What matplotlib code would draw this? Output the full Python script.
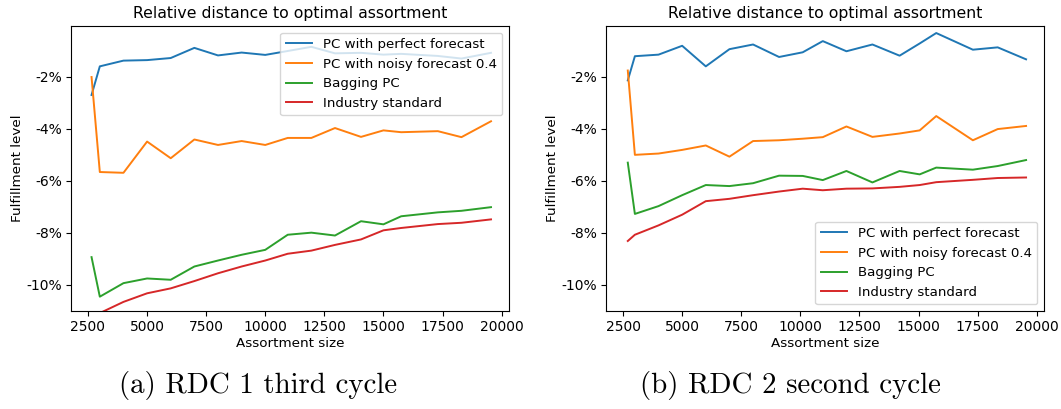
import numpy as np
import matplotlib
matplotlib.use("Agg")
import matplotlib.pyplot as plt
from matplotlib.ticker import FuncFormatter

# datos (en %)
x_a = [2650, 3000, 4000, 5000, 6000, 7000, 8000, 9000, 10000, 10950, 11950,
       12950, 14050, 15000, 15750, 17300, 18300, 19550]
perfect_a = [-2.70, -1.60, -1.38, -1.36, -1.28, -0.89, -1.18, -1.07, -1.16, -1.01, -0.85,
             -1.10, -1.08, -1.15, -1.12, -1.20, -1.30, -1.08]
noisy_a = [-2.01, -5.66, -5.69, -4.49, -5.13, -4.41, -4.62, -4.47, -4.62, -4.35, -4.35,
           -3.97, -4.31, -4.06, -4.13, -4.09, -4.32, -3.71]
bagging_a = [-8.93, -10.45, -9.93, -9.75, -9.80, -9.29, -9.06, -8.84, -8.65, -8.07, -7.99,
             -8.10, -7.55, -7.67, -7.36, -7.21, -7.15, -7.01]
industry_a = [-11.30, -11.08, -10.65, -10.32, -10.13, -9.85, -9.55, -9.29, -9.06, -8.80, -8.68,
              -8.46, -8.25, -7.90, -7.81, -7.66, -7.61, -7.48]

x_b = [2700, 3000, 4000, 5000, 6000, 7000, 8000, 9100, 10100, 10950, 11950,
       13050, 14200, 15050, 15750, 17300, 18350, 19550]
perfect_b = [-2.14, -1.21, -1.15, -0.81, -1.60, -0.94, -0.76, -1.24, -1.06, -0.63, -1.02,
             -0.76, -1.19, -0.72, -0.32, -0.96, -0.87, -1.33]
noisy_b = [-1.76, -5.00, -4.95, -4.81, -4.64, -5.07, -4.47, -4.44, -4.38, -4.32, -3.91,
           -4.31, -4.18, -4.06, -3.51, -4.44, -4.01, -3.89]
bagging_b = [-5.30, -7.27, -6.97, -6.55, -6.16, -6.20, -6.09, -5.80, -5.81, -5.97, -5.62,
             -6.06, -5.62, -5.75, -5.49, -5.57, -5.43, -5.20]
industry_b = [-8.31, -8.07, -7.71, -7.30, -6.78, -6.69, -6.55, -6.41, -6.30, -6.36, -6.30,
              -6.29, -6.23, -6.16, -6.05, -5.96, -5.89, -5.87]

labels = ["PC with perfect forecast", "PC with noisy forecast 0.4",
          "Bagging PC", "Industry standard"]
captions = ["(a) RDC 1 third cycle", "(b) RDC 2 second cycle"]

fig = plt.figure(figsize=(10.61, 4.09), dpi=100)
ax1 = fig.add_axes([0.0669, 0.2396, 0.4128, 0.6968])
ax2 = fig.add_axes([0.5712, 0.2396, 0.4128, 0.6968])

datos = [(ax1, x_a, [perfect_a, noisy_a, bagging_a, industry_a], "upper right"),
         (ax2, x_b, [perfect_b, noisy_b, bagging_b, industry_b], "lower right")]

for ax, x, series, loc in datos:
    for y, lab in zip(series, labels):
        ax.plot(x, y, label=lab, linewidth=1.4)
    ax.set_ylim(-11, -0.05)
    ax.set_xlim(1780, 20310)
    ax.set_xticks([2500, 5000, 7500, 10000, 12500, 15000, 17500, 20000])
    ax.set_yticks([-2, -4, -6, -8, -10])
    ax.yaxis.set_major_formatter(FuncFormatter(lambda v, p: "%d%%" % v))
    ax.tick_params(labelsize=10, pad=3)
    ax.set_title("Relative distance to optimal assortment", fontsize=11.3)
    ax.set_xlabel("Assortment size", fontsize=9.7, labelpad=2)
    ax.set_ylabel("Fulfillment level", fontsize=9.7, labelpad=2)
    ax.legend(loc=loc, fontsize=9.6)

fig.text(0.243, 0.058, captions[0], ha="center", va="center", family="cmr10", fontsize=20.8)
fig.text(0.745, 0.058, captions[1], ha="center", va="center", family="cmr10", fontsize=20.8)

fig.savefig("out.png", dpi=100)
